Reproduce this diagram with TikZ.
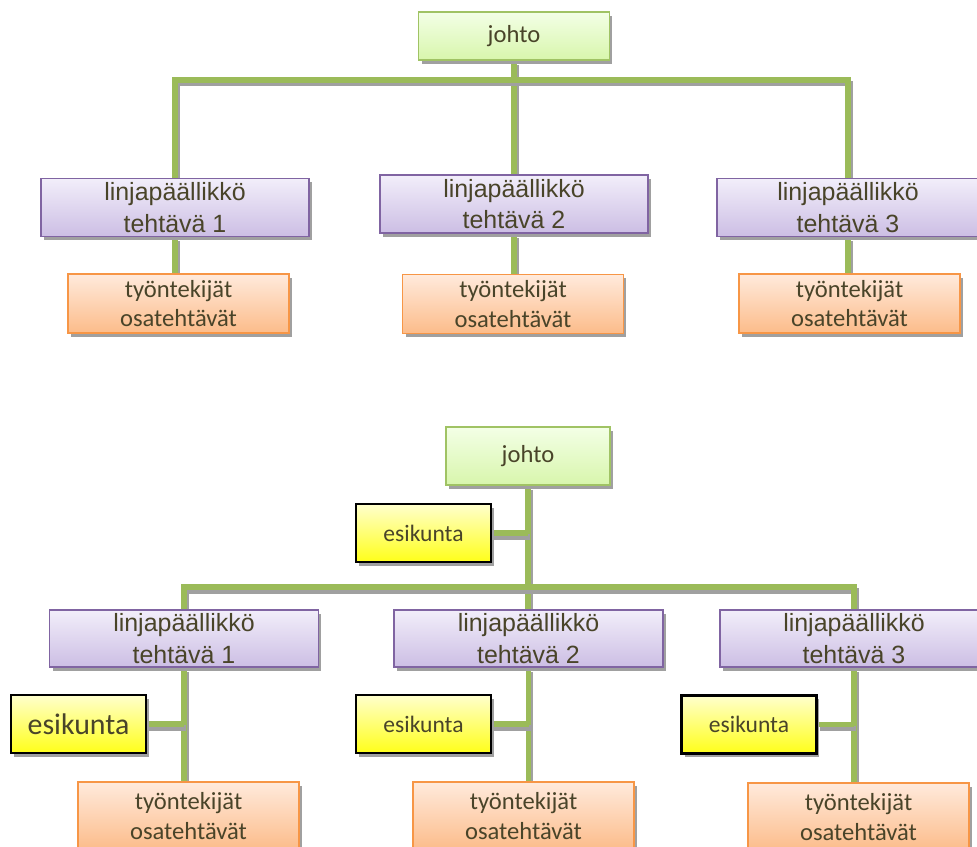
\documentclass[tikz,border=0pt]{standalone}
\usepackage{fontspec}
\setmainfont{Carlito}
\newfontfamily\arialfont{Liberation Sans}
\usetikzlibrary{shadows,backgrounds}
\definecolor{ink}{RGB}{73,68,41}
\definecolor{stem}{RGB}{155,187,89}
\definecolor{shade}{RGB}{160,160,160}
\definecolor{johtotop}{RGB}{243,255,230}
\definecolor{johtobot}{RGB}{216,246,172}
\definecolor{johtoline}{RGB}{160,195,100}
\definecolor{linjatop}{RGB}{242,238,250}
\definecolor{linjabot}{RGB}{204,190,228}
\definecolor{linjaline}{RGB}{128,100,162}
\definecolor{tekijatop}{RGB}{255,234,220}
\definecolor{tekijabot}{RGB}{252,188,138}
\definecolor{tekijaline}{RGB}{247,150,70}
\definecolor{esitop}{RGB}{255,255,205}
\definecolor{esibot}{RGB}{255,255,25}
\tikzset{
  x=0.02cm, y=-0.02cm,
  box/.style={line width=1.1pt, text=ink, align=center, inner sep=0pt,
    drop shadow={shadow xshift=1.7pt, shadow yshift=-2pt, fill=shade, opacity=1}},
  johtobox/.style={box, draw=johtoline, top color=johtotop, bottom color=johtobot,
    font=\fontsize{14}{17}\selectfont, minimum width=3.82cm, minimum height=0.96cm},
  linjabox/.style={box, draw=linjaline, top color=linjatop, bottom color=linjabot,
    font=\arialfont\fontsize{14.2}{18}\selectfont, minimum width=5.36cm, minimum height=1.16cm},
  tekijabox/.style={box, draw=tekijaline, top color=tekijatop, bottom color=tekijabot,
    font=\fontsize{14}{17}\selectfont, minimum width=4.42cm, minimum height=1.18cm},
  esibox/.style={box, draw=black, line width=1.4pt, top color=esitop, bottom color=esibot,
    font=\fontsize{13.4}{16}\selectfont, minimum width=2.7cm, minimum height=1.16cm},
  link/.style={draw=stem, line width=3pt,
    preaction={draw=shade, line width=3pt, transform canvas={shift={(1.2pt,-2.2pt)}}}},
}

\begin{document}
\begin{tikzpicture}
  \useasboundingbox (0,0) rectangle (977,847);
  % linjaorganisaatio
  \node[johtobox] (johto1) at (514,36) {johto};
  \node[linjabox] (lp11) at (175,207.5) {linjapäällikkö\\tehtävä 1};
  \node[linjabox] (lp12) at (514,204) {linjapäällikkö\\tehtävä 2};
  \node[linjabox, minimum width=5.24cm] (lp13) at (848,207.5) {linjapäällikkö\\tehtävä 3};
  \node[tekijabox] (tt11) at (178.5,303.5) {työntekijät\\osatehtävät};
  \node[tekijabox] (tt12) at (513,304) {työntekijät\\osatehtävät};
  \node[tekijabox] (tt13) at (849.5,303.5) {työntekijät\\osatehtävät};
  \coordinate (bus1) at (514,80);
  % linja-esikuntaorganisaatio
  \node[johtobox, minimum width=3.28cm, minimum height=1.16cm] (johto2) at (528,456) {johto};
  \node[esibox] (esi0) at (423.5,533) {esikunta};
  \node[linjabox, minimum width=5.38cm, minimum height=1.14cm] (lp21) at (184,638.5) {linjapäällikkö\\tehtävä 1};
  \node[linjabox, minimum width=5.38cm, minimum height=1.14cm] (lp22) at (528.5,638.5) {linjapäällikkö\\tehtävä 2};
  \node[linjabox, minimum width=5.38cm, minimum height=1.14cm] (lp23) at (854,638.5) {linjapäällikkö\\tehtävä 3};
  \node[esibox, font=\fontsize{17}{20}\selectfont] (esi1) at (78.5,724) {esikunta};
  \node[esibox] (esi2) at (423.5,724) {esikunta};
  \node[esibox] (esi3) at (749,724.5) {esikunta};
  \node[tekijabox, minimum height=1.36cm] (tt21) at (188.5,816) {työntekijät\\osatehtävät};
  \node[tekijabox, minimum height=1.36cm] (tt22) at (523.5,816) {työntekijät\\osatehtävät};
  \node[tekijabox, minimum height=1.36cm] (tt23) at (858.5,817) {työntekijät\\osatehtävät};
  \coordinate (bus2) at (528,587);

  \begin{scope}[on background layer]
    \draw[link] (johto1.south) -- (johto1.south |- lp12.north);
    \draw[link] (lp11.north) |- (bus1) -| (lp13.north);
    \draw[link] (lp11.south) -- (lp11.south |- tt11.north);
    \draw[link] (lp12.south) -- (lp12.south |- tt12.north);
    \draw[link] (lp13.south) -- (lp13.south |- tt13.north);
    \draw[link] (johto2.south) -- (johto2.south |- lp22.north);
    \draw[link] (esi0.east) -- (esi0.east -| johto2.south);
    \draw[link] (lp21.north) |- (bus2) -| (lp23.north);
    \draw[link] (lp21.south) -- (lp21.south |- tt21.north);
    \draw[link] (lp22.south) -- (lp22.south |- tt22.north);
    \draw[link] (lp23.south) -- (lp23.south |- tt23.north);
    \draw[link] (esi1.east) -- (esi1.east -| lp21.south);
    \draw[link] (esi2.east) -- (esi2.east -| lp22.south);
    \draw[link] (esi3.east) -- (esi3.east -| lp23.south);
  \end{scope}
\end{tikzpicture}
\end{document}
